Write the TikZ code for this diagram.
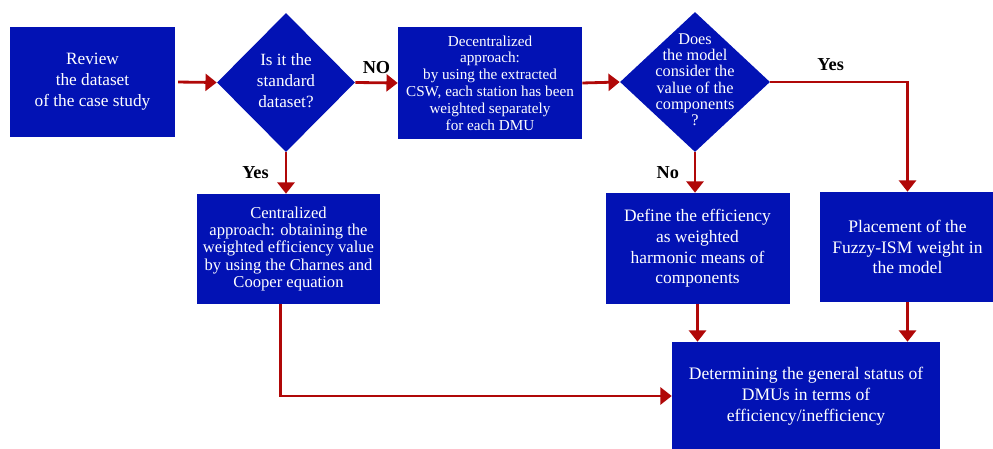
\documentclass[tikz,border=0pt]{standalone}
\usepackage{fontspec}
\setmainfont{Liberation Serif}
\usetikzlibrary{arrows.meta,shapes.geometric}

\definecolor{flowblue}{RGB}{2,18,180}
\definecolor{flowred}{RGB}{176,8,8}
\newcommand{\decisiontext}[1]{\makebox[0pt]{\smash{\raisebox{-0.25em}{\begin{tabular}{@{}c@{}}#1\end{tabular}}}}}

\begin{document}
\begin{tikzpicture}[
    box/.style={rectangle, fill=flowblue, text=white, align=center, inner sep=2pt},
    decision/.style={diamond, aspect=1, fill=flowblue, text=white, inner sep=0pt},
    flow/.style={draw=flowred, line width=2pt, -{Triangle[length=8pt, width=12pt]}},
    tag/.style={font=\fontsize{13}{15}\selectfont\bfseries, text=black}]
    \useasboundingbox (0,0) rectangle (24.825,11.2);

    \node[box, minimum width=4.125cm, minimum height=2.75cm, font=\fontsize{12.3}{15}\selectfont] (review) at (2.3125,9.15) {Review\\the dataset\\of the case study};
    \node[decision, minimum width=3.45cm, minimum height=3.475cm, font=\fontsize{12.2}{15}\selectfont] (standard) at (7.15,9.1375) {\decisiontext{Is it the\\standard\\dataset?}};
    \node[box, minimum width=4.6cm, minimum height=2.8cm, font=\fontsize{10.8}{12}\selectfont] (decentral) at (12.25,9.125) {Decentralized\\approach:\\by using the extracted\\CSW, each station has been\\weighted separately\\for each DMU};
    \node[decision, minimum width=3.75cm, minimum height=3.5cm, font=\fontsize{11.6}{11.5}\selectfont] (components) at (17.375,9.15) {\decisiontext{Does\\the model\\consider the\\value of the\\components\\?}};
    \node[box, minimum width=4.575cm, minimum height=2.75cm, font=\fontsize{11.8}{12.2}\selectfont] (central) at (7.2125,4.975) {Centralized\\approach: obtaining the\\weighted efficiency value\\by using the Charnes and\\Cooper equation};
    \node[box, minimum width=4.6cm, minimum height=2.775cm, font=\fontsize{12.4}{14.7}\selectfont] (harmonic) at (17.4375,4.9875) {Define the efficiency\\as weighted\\harmonic means of\\components};
    \node[box, minimum width=4.375cm, minimum height=2.75cm, font=\fontsize{12.5}{14.7}\selectfont] (fuzzy) at (22.6875,5.025) {Placement of the\\Fuzzy-ISM weight in\\the model};
    \node[box, minimum width=6.7cm, minimum height=2.7cm, font=\fontsize{12.5}{14.9}\selectfont] (status) at (20.15,1.3) {Determining the general status of\\DMUs in terms of\\efficiency/inefficiency};

    \draw[flow, shorten <=2pt] (review.east) -- (standard.west);
    \draw[flow] (standard.east) -- node[tag, above=2pt] {NO} (decentral.west);
    \draw[flow] (decentral.east) -- (components.west);
    \draw[flow] (components.east) -| node[tag, pos=0.22, above=4pt] {Yes} (fuzzy.north);
    \draw[flow] (standard.south) -- node[tag, left=8pt] {Yes} (standard.south |- central.north);
    \draw[flow] (components.south) -- node[tag, left=7pt] {No} (components.south |- harmonic.north);
    \draw[flow] (harmonic.south) -- (harmonic.south |- status.north);
    \draw[flow] (fuzzy.south) -- (fuzzy.south |- status.north);
    \draw[flow] ([xshift=-0.2cm]central.south) |- (status.west);
\end{tikzpicture}
\end{document}
